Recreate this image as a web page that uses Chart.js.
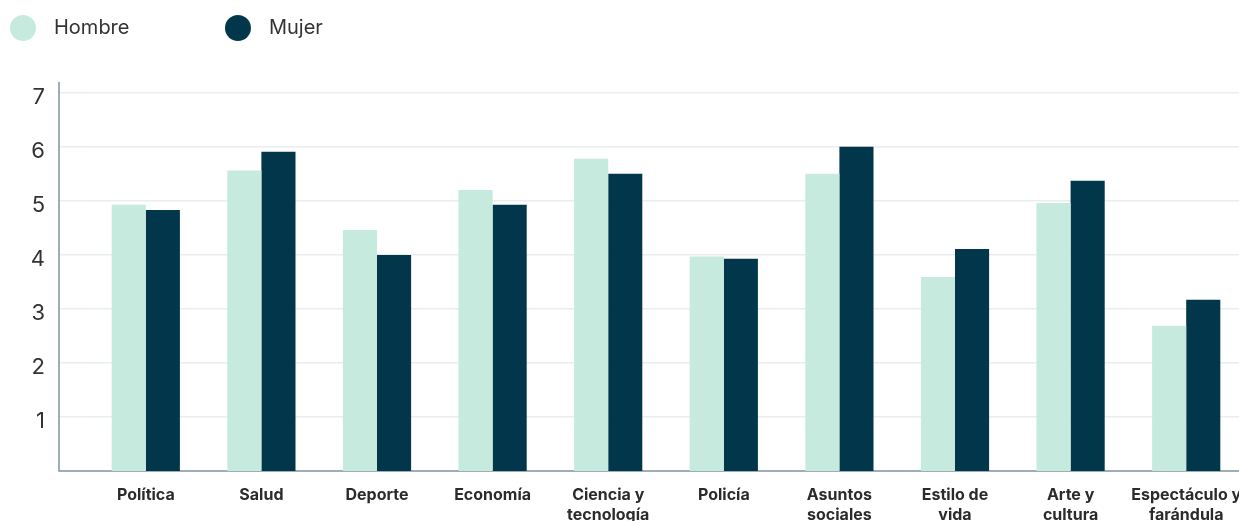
<!DOCTYPE html>
<html>
<head>
<meta charset="utf-8">
<script src="https://cdn.jsdelivr.net/npm/chart.js@4/dist/chart.umd.min.js"></script>
<style>
  html, body { margin: 0; padding: 0; background: #fff; overflow: hidden; }
  #wrap { width: 1250px; height: 521px; }
</style>
</head>
<body>
<div id="wrap"><canvas id="barChart"></canvas></div>
<script>
const categories = [
  "Política", "Salud", "Deporte", "Economía", ["Ciencia y", "tecnología"],
  "Policía", ["Asuntos", "sociales"], ["Estilo de", "vida"], ["Arte y", "cultura"],
  ["Espectáculo y", "farándula"]
];
const hombre = [4.93, 5.56, 4.46, 5.2, 5.78, 3.97, 5.5, 3.59, 4.96, 2.69];
const mujer = [4.83, 5.91, 4.0, 4.93, 5.5, 3.93, 6.0, 4.11, 5.37, 3.17];
const yTicks = [1, 2, 3, 4, 5, 6, 7];

const hombreColor = "#c7eadf";
const mujerColor = "#02364a";
const axisColor = "#7f939e";

// legend dot drawn into a small canvas so the text gap matches
function legendDot(color) {
  const c = document.createElement("canvas");
  c.width = 34;
  c.height = 26;
  const ctx = c.getContext("2d");
  ctx.fillStyle = color;
  ctx.beginPath();
  ctx.arc(13, 13, 13, 0, Math.PI * 2);
  ctx.fill();
  return c;
}

const axisLines = {
  id: "axisLines",
  beforeDatasetsDraw(chart) {
    const { ctx, chartArea } = chart;
    const x0 = chartArea.left - chart.scales.y.options.grid.tickLength;
    ctx.save();
    ctx.strokeStyle = axisColor;
    ctx.lineWidth = 1.5;
    ctx.beginPath();
    ctx.moveTo(x0, chartArea.top);
    ctx.lineTo(x0, chartArea.bottom);
    ctx.lineTo(chart.width, chartArea.bottom);
    ctx.stroke();
    ctx.restore();
  }
};

const legendSpace = {
  id: "legendSpace",
  beforeInit(chart) {
    const fit = chart.legend.fit;
    chart.legend.fit = function () {
      fit.bind(chart.legend)();
      this.height += 34;
    };
  }
};

const dots = [legendDot(hombreColor), legendDot(mujerColor)];

new Chart(document.getElementById("barChart"), {
  type: "bar",
  data: {
    labels: categories,
    datasets: [
      { label: "Hombre", data: hombre, backgroundColor: hombreColor },
      { label: "Mujer", data: mujer, backgroundColor: mujerColor }
    ]
  },
  options: {
    responsive: true,
    maintainAspectRatio: false,
    animation: false,
    layout: { padding: { top: 8, right: 6 } },
    datasets: {
      bar: { categoryPercentage: 0.59, barPercentage: 1.0 }
    },
    plugins: {
      tooltip: { enabled: false },
      legend: {
        align: "start",
        labels: {
          usePointStyle: true,
          pointStyleWidth: 34,
          font: { family: "Inter", size: 20 },
          color: "#333",
          padding: 10,
          generateLabels(chart) {
            const items = Chart.defaults.plugins.legend.labels.generateLabels(chart);
            items.forEach((it, i) => {
              it.pointStyle = dots[i];
              if (i === 0) it.text = it.text + "\u2003\u2003\u2003\u2003\u2009\u200A";
            });
            return items;
          }
        }
      }
    },
    scales: {
      x: {
        grid: { display: false },
        border: { display: false },
        ticks: {
          autoSkip: false,
          maxRotation: 0,
          padding: 6,
          color: "#2b2b2b",
          font: { family: "Inter", size: 16, weight: "bold", lineHeight: 1.25 }
        },
        afterFit(scale) { scale.height = 50; }
      },
      y: {
        min: 0,
        max: 7.2,
        afterBuildTicks(scale) {
          scale.ticks = yTicks.map(v => ({ value: v }));
        },
        afterFit(scale) { scale.width = 88; },
        border: { display: false },
        grid: {
          color: "#e8edf0",
          lineWidth: 1.5,
          drawTicks: true,
          tickLength: 29,
          tickColor: "#e8edf0"
        },
        ticks: {
          padding: 14,
          color: "#333",
          // empty first line nudges the number a little below its grid line
          callback: v => ["", String(v)],
          font: { family: "Inter", size: 22, lineHeight: "9px" }
        }
      }
    }
  },
  plugins: [axisLines, legendSpace]
});
</script>
</body>
</html>
